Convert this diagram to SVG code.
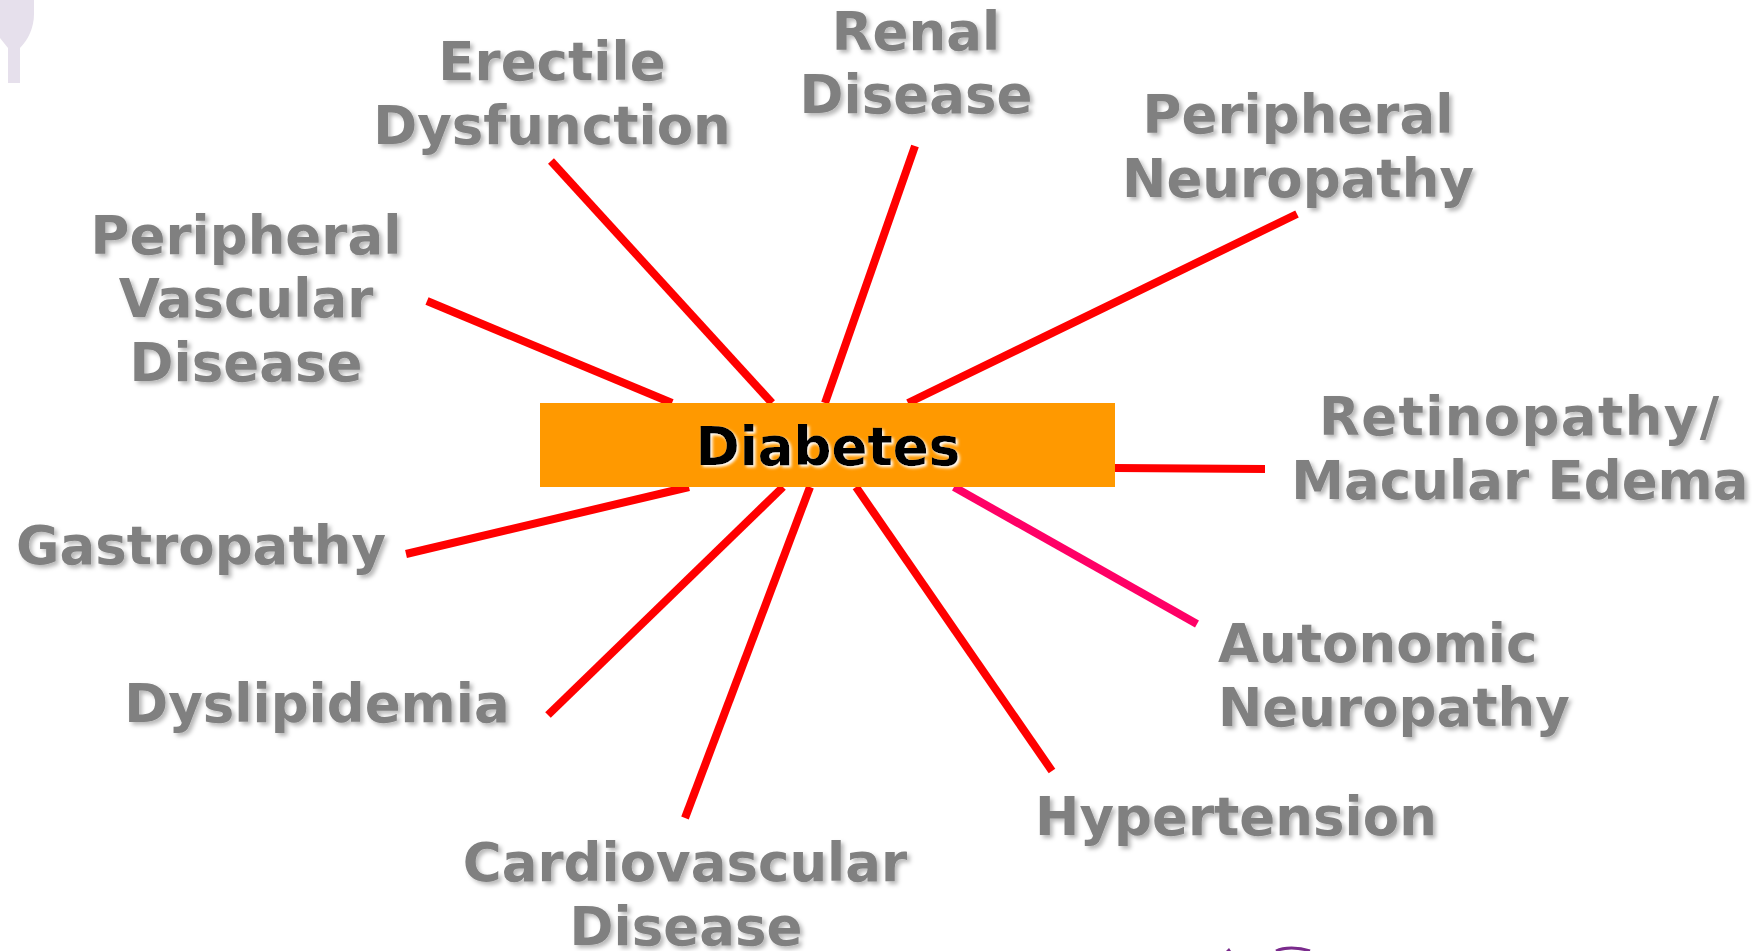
<svg xmlns="http://www.w3.org/2000/svg" width="1764" height="951" viewBox="0 0 1764 951">
<defs>
<style>
.c{stroke:#ff0000;stroke-width:8;fill:none}
.t{font-family:"DejaVu Sans","Liberation Sans",sans-serif;font-weight:700;font-size:53px;fill:#808080;text-anchor:middle;filter:url(#s)}
.d{font-family:"DejaVu Sans","Liberation Sans",sans-serif;font-weight:700;font-size:53px;fill:#000;text-anchor:middle;filter:url(#w)}
</style>
<filter id="s" x="-10%" y="-20%" width="120%" height="150%"><feDropShadow dx="3" dy="3" stdDeviation="2" flood-color="#000" flood-opacity=".28"/></filter>
<filter id="w" x="-10%" y="-20%" width="120%" height="150%"><feDropShadow dx="2" dy="2" stdDeviation="1.5" flood-color="#fff" flood-opacity="1"/></filter>
</defs>
<rect width="1764" height="951" fill="#fff"/>
<g id="logo-fragments">
<path d="M0 0H34V14C34 28 28 40 20 48V83H8V48L0 38Z" fill="#e6e0ec"/>
<path d="M1276 951C1284 947 1298 947 1310 951" stroke="#7a2a8c" stroke-width="3" fill="none"/>
<path d="M1226 951L1229 948L1231 951Z" fill="#7a2a8c"/>
</g>
<g id="connectors">
<line class="c" x1="551" y1="161" x2="772" y2="403"/>
<line class="c" x1="915" y1="146" x2="825" y2="403"/>
<line class="c" x1="1297" y1="214" x2="908" y2="403"/>
<line class="c" x1="427" y1="301" x2="672" y2="403"/>
<line class="c" x1="1115" y1="468" x2="1265" y2="469"/>
<line class="c" x1="954" y1="487" x2="1197" y2="624" style="stroke:#ff0066"/>
<line class="c" x1="856" y1="487" x2="1052" y2="771"/>
<line class="c" x1="810" y1="487" x2="685" y2="818"/>
<line class="c" x1="783" y1="487" x2="548" y2="715"/>
<line class="c" x1="689" y1="487" x2="406" y2="554"/>
</g>
<g id="diabetes"><rect x="540" y="403" width="575" height="84" fill="#ff9900"/><text class="d" x="828" y="465">Diabetes</text></g>
<g id="erectile"><text class="t" x="552" y="80">Erectile</text><text class="t" x="552" y="144">Dysfunction</text></g>
<g id="renal"><text class="t" x="916" y="50">Renal</text><text class="t" x="916" y="113">Disease</text></g>
<g id="periph-neuro"><text class="t" x="1298" y="133">Peripheral</text><text class="t" x="1298" y="197">Neuropathy</text></g>
<g id="pvd"><text class="t" x="246" y="254">Peripheral</text><text class="t" x="246" y="317">Vascular</text><text class="t" x="246" y="381">Disease</text></g>
<g id="retino"><text class="t" x="1519" y="435" textLength="400" lengthAdjust="spacing">Retinopathy/</text><text class="t" x="1520" y="499">Macular Edema</text></g>
<g id="gastro"><text class="t" x="201" y="564">Gastropathy</text></g>
<g id="autonomic"><text class="t" x="1218" y="662" style="text-anchor:start">Autonomic</text><text class="t" x="1218" y="726" style="text-anchor:start">Neuropathy</text></g>
<g id="dyslip"><text class="t" x="317" y="722">Dyslipidemia</text></g>
<g id="hyper"><text class="t" x="1236" y="835">Hypertension</text></g>
<g id="cardio"><text class="t" x="685" y="881">Cardiovascular</text><text class="t" x="686" y="945">Disease</text></g>
</svg>
